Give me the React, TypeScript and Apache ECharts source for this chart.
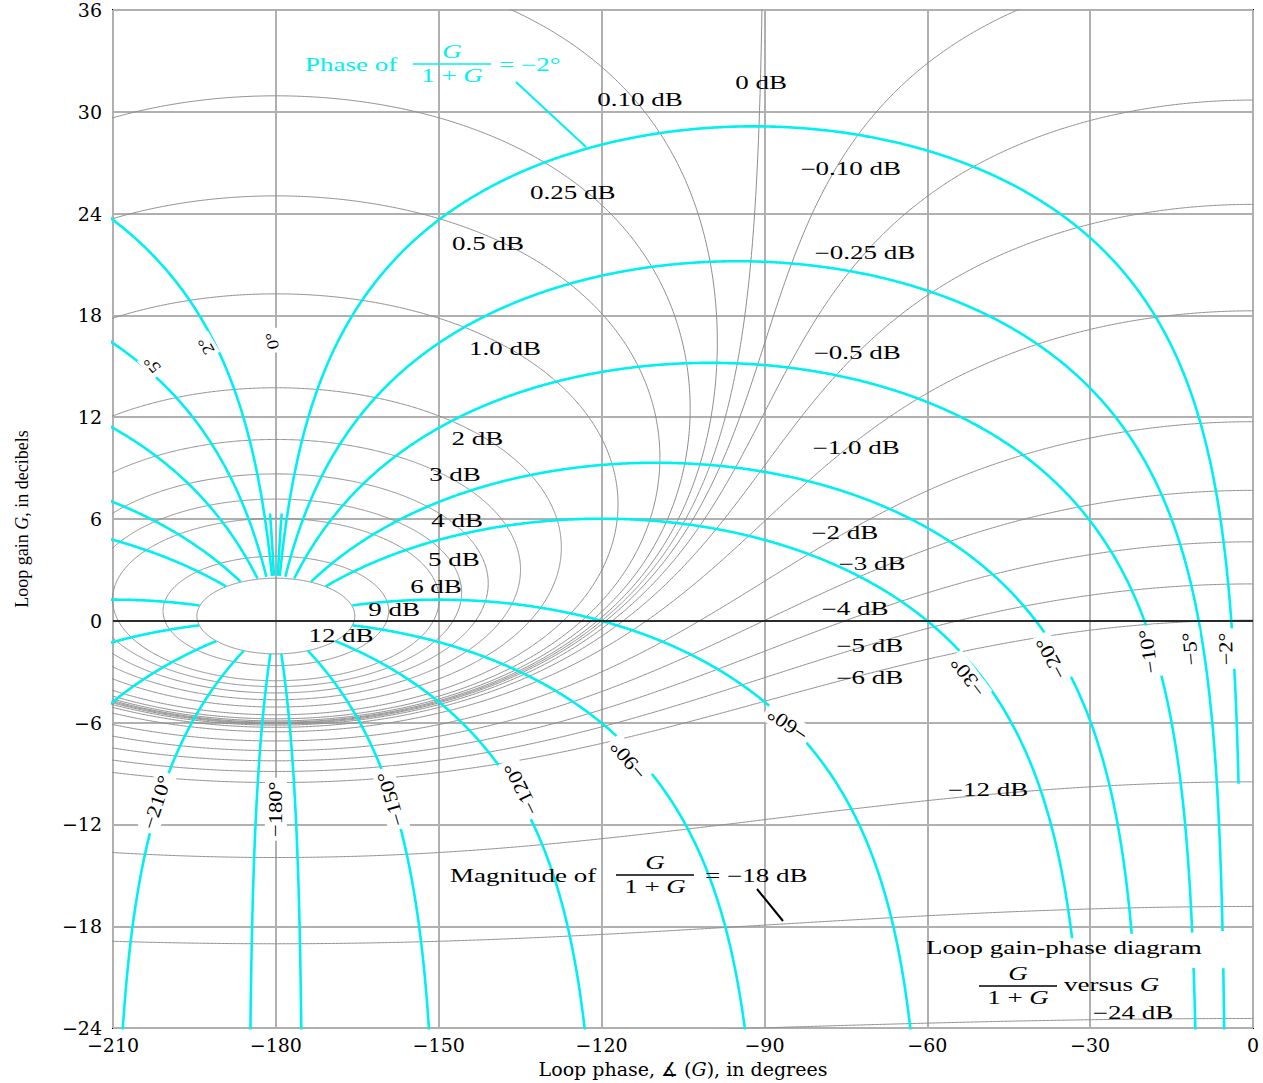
import React, { useEffect, useRef } from 'react';
import * as echarts from 'echarts';

const SERIF = '"Liberation Serif", "Times New Roman", serif';
const WIDE_SERIF = '"DejaVu Serif", serif';
const CYAN = '#00f0f0';
const GRAY_CONTOUR = '#8e8e8e';
const GRID_GRAY = '#b0b0b0';
const STRETCH = 1.5;

// ---- axes ----
const xTicks = [-210, -180, -150, -120, -90, -60, -30, 0];
const xTickLabels = ['\u2212210', '\u2212180', '\u2212150', '\u2212120', '\u221290', '\u221260', '\u221230', '0'];
const yTicks = [-24, -18, -12, -6, 0, 6, 12, 18, 24, 30, 36];
const yTickLabels = ['\u221224', '\u221218', '\u221212', '\u22126', '0', '6', '12', '18', '24', '30', '36'];

// ---- closed-loop magnitude contour levels (dB) ----
const closedMagLevels = [0.1, 0.25, 0.5, 1.0, 2, 3, 4, 5, 6, 9, 12];
const unityMagLevels = [0];
const openMagLevels = [-0.1, -0.25, -0.5, -1.0, -2, -3, -4, -5, -6, -12, -18, -24];

// ---- closed-loop phase contour levels (deg) ----
const phaseLevels = [-2, -5, -10, -20, -30, -60, -90, -120, -150, -175, -185, -210, -240, -270, -300, -330, -340, -350, -355, -358];
// lowest loop gain (dB) down to which each phase contour is drawn in the figure
const phaseLowestGain = [-9.7, -99, -99, -18.5, -18.7, -99, -99, -99, -99, -99, -99, -99, -99, -99, -99, -99, -99, -99, -99, -99];
// phase contours interrupted behind the caption, and the interrupted gain band (dB)
const captionGapLevels = [-5, -10];
const captionGapBand = [-20.4, -18.4];
const shortPhaseLevels = [-1, -359];
const shortPhaseTopGain = 7;
const innerMagLimit = 12;

// ---- magnitude contour labels ----
const magLabelTexts = ['0.10 dB', '0 dB', '\u22120.10 dB', '0.25 dB', '\u22120.25 dB', '0.5 dB', '\u22120.5 dB', '1.0 dB', '\u22121.0 dB', '2 dB', '3 dB', '4 dB', '5 dB', '6 dB', '9 dB', '12 dB', '\u22122 dB', '\u22123 dB', '\u22124 dB', '\u22125 dB', '\u22126 dB', '\u221212 dB', '\u221224 dB'];
const magLabelPhase = [-112.9, -90.6, -74.1, -125.3, -71.5, -140.9, -72.9, -137.8, -73.1, -142.9, -147.0, -146.6, -147.2, -150.5, -158.2, -168.0, -75.2, -70.2, -73.3, -70.6, -70.6, -48.8, -22.1];
const magLabelGain = [30.7, 31.7, 26.6, 25.2, 21.7, 22.2, 15.8, 16.0, 10.2, 10.7, 8.6, 5.9, 3.6, 2.0, 0.65, -0.9, 5.2, 3.35, 0.7, -1.5, -3.4, -10.0, -23.1];

// ---- phase contour labels ----
const phaseLabelTexts = ['\u2212210\u00b0', '\u2212180\u00b0', '\u2212150\u00b0', '\u2212120\u00b0', '\u221290\u00b0', '\u221260\u00b0', '\u221230\u00b0', '\u221220\u00b0', '\u221210\u00b0', '\u22125\u00b0', '\u22122\u00b0', '5\u00b0', '2\u00b0', '0\u00b0'];
const phaseLabelPhase = [-201.9, -180, -158.8, -134.8, -115.1, -85.7, -52.5, -37.2, -19.3, -11.6, -5.0, -202.8, -192.9, -180.7];
const phaseLabelGain = [-10.7, -11.1, -10.5, -9.9, -8.2, -6.1, -3.3, -2.2, -1.8, -1.65, -1.65, 15.1, 16.2, 16.5];
const phaseLabelAngle = [72, 90, 106, 116, 130, 145, 127, 118, 98, 95, 92, 130, 120, 100];

const RAD = Math.PI / 180;
const toDb = (k: number) => 20 * Math.log10(k);

function closedMagnitudeContour(levelDb: number): number[][] {
  const m = Math.pow(10, levelDb / 20);
  const cAbs = (m * m) / (m * m - 1);
  const r = m / (m * m - 1);
  const n = 600;
  const upper: number[][] = [];
  const lower: number[][] = [];
  for (let i = 0; i <= n; i++) {
    const s = -Math.PI / 2 + (Math.PI * i) / n;
    const psi = Math.asin(Math.sin(s) / m);
    const base = cAbs * Math.cos(psi);
    const ph = -180 + psi / RAD;
    upper.push([ph, toDb(base + r * Math.cos(s))]);
    lower.push([ph, toDb(base - r * Math.cos(s))]);
  }
  return upper.concat(lower.reverse());
}

function openMagnitudeContour(levelDb: number): number[][] {
  const m2 = Math.pow(10, levelDb / 10);
  const c = m2 / (1 - m2);
  const pts: number[][] = [];
  for (let i = 0; i <= 860; i++) {
    const p = -215 + i * 0.25;
    const cs = Math.cos(p * RAD);
    const k = c * cs + Math.sqrt(c * c * cs * cs + c);
    pts.push([p, toDb(k)]);
  }
  return pts;
}

function unityMagnitudeContour(): number[][] {
  const pts: number[][] = [];
  for (let i = 0; i <= 1796; i++) {
    const psi = -89.8 + i * 0.1;
    pts.push([-180 + psi, toDb(0.5 / Math.cos(psi * RAD))]);
  }
  return pts;
}

// returns one or more drawn segments of a constant closed-loop phase contour
function phaseContour(level: number, lowest: number, gap: number[] | null, topGain?: number): number[][][] {
  const cot = 1 / Math.tan(level * RAD);
  const segments: number[][][] = [];
  let cur: number[][] = [];
  const n = 2000;
  for (let i = 1; i < n; i++) {
    const s = i / n;
    const t = 1 - (1 - s) * (1 - s);
    const phi = -180 + (level + 180) * t;
    const pr = phi * RAD;
    const k = -Math.cos(pr) + Math.sin(pr) * cot;
    if (k <= 0) continue;
    const re = k * Math.cos(pr);
    const im = k * Math.sin(pr);
    const closedMag = k / Math.hypot(1 + re, im);
    if (toDb(closedMag) > innerMagLimit) continue;
    const g = toDb(k);
    if (topGain !== undefined && g > topGain) break;
    if (g < Math.max(lowest, -40)) break;
    if (gap && g > gap[0] && g < gap[1]) {
      if (cur.length) segments.push(cur);
      cur = [];
      continue;
    }
    cur.push([phi, g]);
  }
  if (cur.length) segments.push(cur);
  return segments;
}

export default function App() {
  const ref = useRef<HTMLDivElement>(null);

  useEffect(() => {
    if (!ref.current) return;
    const chart = echarts.init(ref.current, null, { renderer: 'svg' });

    const grayLine = (data: number[][]) => ({
      type: 'line',
      data,
      showSymbol: false,
      symbol: 'none',
      silent: true,
      z: 2,
      lineStyle: { color: GRAY_CONTOUR, width: 1 },
    });
    const cyanLine = (data: number[][]) => ({
      type: 'line',
      data,
      showSymbol: false,
      symbol: 'none',
      silent: true,
      z: 4,
      lineStyle: { color: CYAN, width: 2.6 },
    });

    const series: any[] = [];
    closedMagLevels.forEach((l) => series.push(grayLine(closedMagnitudeContour(l))));
    unityMagLevels.forEach(() => series.push(grayLine(unityMagnitudeContour())));
    openMagLevels.forEach((l) => series.push(grayLine(openMagnitudeContour(l))));
    phaseLevels.forEach((l, i) => {
      const gap = captionGapLevels.indexOf(l) >= 0 ? captionGapBand : null;
      phaseContour(l, phaseLowestGain[i], gap).forEach((seg) => series.push(cyanLine(seg)));
    });
    shortPhaseLevels.forEach((l) =>
      phaseContour(l, -99, null, shortPhaseTopGain).forEach((seg) => series.push(cyanLine(seg)))
    );
    series.push({
      type: 'line',
      data: [],
      silent: true,
      z: 3,
      markLine: {
        silent: true,
        symbol: ['none', 'none'],
        label: { show: false },
        lineStyle: { color: '#000', width: 1.6, type: 'solid' },
        data: [{ yAxis: 0 }],
      },
    });

    chart.setOption({
      animation: false,
      backgroundColor: '#fff',
      grid: {
        left: 113,
        right: 10,
        top: 10,
        bottom: 53,
        show: true,
        borderColor: '#000',
        borderWidth: 2,
        backgroundColor: 'transparent',
      },
      xAxis: {
        type: 'value',
        min: -210,
        max: 0,
        interval: 30,
        axisLine: { show: false },
        axisTick: { show: false },
        splitLine: { show: true, lineStyle: { color: GRID_GRAY, width: 2 } },
        axisLabel: {
          showMinLabel: true,
          showMaxLabel: true,
          margin: 7,
          color: '#000',
          fontFamily: WIDE_SERIF,
          fontSize: 19,
          formatter: (v: number) => {
            const i = xTicks.indexOf(Math.round(v));
            return i >= 0 ? xTickLabels[i] : '';
          },
        },
        name: 'Loop phase, \u2221 ({i|G}), in degrees',
        nameLocation: 'middle',
        nameGap: 30,
        nameTextStyle: {
          color: '#000',
          fontFamily: WIDE_SERIF,
          fontSize: 19,
          rich: { i: { fontStyle: 'italic', fontFamily: WIDE_SERIF, fontSize: 19, color: '#000' } },
        },
      },
      yAxis: {
        type: 'value',
        min: -24,
        max: 36,
        interval: 6,
        axisLine: { show: false },
        axisTick: { show: false },
        splitLine: { show: true, lineStyle: { color: GRID_GRAY, width: 2 } },
        axisLabel: {
          showMinLabel: true,
          showMaxLabel: true,
          margin: 11,
          color: '#000',
          fontFamily: WIDE_SERIF,
          fontSize: 19,
          formatter: (v: number) => {
            const i = yTicks.indexOf(Math.round(v));
            return i >= 0 ? yTickLabels[i] : '';
          },
        },
        name: 'Loop gain {i|G}, in decibels',
        nameLocation: 'middle',
        nameGap: 82,
        nameTextStyle: {
          color: '#000',
          fontFamily: SERIF,
          fontSize: 18,
          rich: { i: { fontStyle: 'italic', fontFamily: SERIF, fontSize: 18, color: '#000' } },
        },
      },
      series,
    });

    const px = (p: number, g: number) => chart.convertToPixel({ gridIndex: 0 }, [p, g]) as number[];
    const font = (size: number, italic?: boolean) => `${italic ? 'italic ' : ''}${size}px ${SERIF}`;
    const graphics: any[] = [];

    magLabelTexts.forEach((t, i) => {
      const [x, y] = px(magLabelPhase[i], magLabelGain[i]);
      graphics.push({
        type: 'text',
        x,
        y,
        scaleX: STRETCH,
        z: 100,
        silent: true,
        style: { text: t, font: font(18), fill: '#000', align: 'center', verticalAlign: 'middle' },
      });
    });

    phaseLabelTexts.forEach((t, i) => {
      const [x, y] = px(phaseLabelPhase[i], phaseLabelGain[i]);
      const small = i >= 11;
      graphics.push({
        type: 'text',
        x,
        y,
        rotation: phaseLabelAngle[i] * RAD,
        scaleX: 1.25,
        scaleY: 1.1,
        z: 100,
        silent: true,
        style: {
          text: t,
          font: font(small ? 15 : 18),
          fill: '#000',
          align: 'center',
          verticalAlign: 'middle',
          backgroundColor: '#fff',
          padding: [1, 3],
        },
      });
    });

    const richItalic = (color: string) => ({ i: { font: font(18, true), fill: color } });
    const fraction = (cx: number, barY: number, halfW: number, color: string) => [
      {
        type: 'text', x: cx, y: barY - 12, scaleX: STRETCH, z: 100, silent: true,
        style: { text: 'G', font: font(18, true), fill: color, align: 'center', verticalAlign: 'middle' },
      },
      {
        type: 'line', z: 100, silent: true,
        shape: { x1: cx - halfW, y1: barY, x2: cx + halfW, y2: barY },
        style: { stroke: color, lineWidth: 1.5 },
      },
      {
        type: 'text', x: cx, y: barY + 12, scaleX: STRETCH, z: 100, silent: true,
        style: { text: '1 + {i|G}', rich: richItalic(color), font: font(18), fill: color, align: 'center', verticalAlign: 'middle' },
      },
    ];
    const plainText = (x: number, y: number, text: string, color: string) => ({
      type: 'text', x, y, scaleX: STRETCH, z: 100, silent: true,
      style: { text, rich: richItalic(color), font: font(18), fill: color, align: 'left', verticalAlign: 'middle' },
    });

    // Phase annotation
    graphics.push(plainText(305, 65, 'Phase of', CYAN));
    graphics.push(...fraction(452, 64, 39, CYAN));
    graphics.push(plainText(499, 65, '= \u22122\u00b0', CYAN));
    graphics.push({
      type: 'line', z: 100, silent: true,
      shape: { x1: 516, y1: 82, x2: 586, y2: 147 },
      style: { stroke: CYAN, lineWidth: 2 },
    });

    // Magnitude annotation
    graphics.push(plainText(450, 876, 'Magnitude of', '#000'));
    graphics.push(...fraction(655, 875, 39, '#000'));
    graphics.push(plainText(705, 876, '= \u221218 dB', '#000'));
    graphics.push({
      type: 'line', z: 100, silent: true,
      shape: { x1: 757, y1: 889, x2: 783, y2: 921 },
      style: { stroke: '#000', lineWidth: 2 },
    });

    // Diagram caption
    graphics.push(plainText(926, 948, 'Loop gain-phase diagram', '#000'));
    graphics.push(...fraction(1018, 986, 39, '#000'));
    graphics.push(plainText(1064, 985, 'versus {i|G}', '#000'));

    chart.setOption({ graphic: graphics });

    return () => chart.dispose();
  }, []);

  return (
    <div
      ref={ref}
      style={{ position: 'fixed', left: 0, top: 0, width: 1263, height: 1083, background: '#fff' }}
    />
  );
}
